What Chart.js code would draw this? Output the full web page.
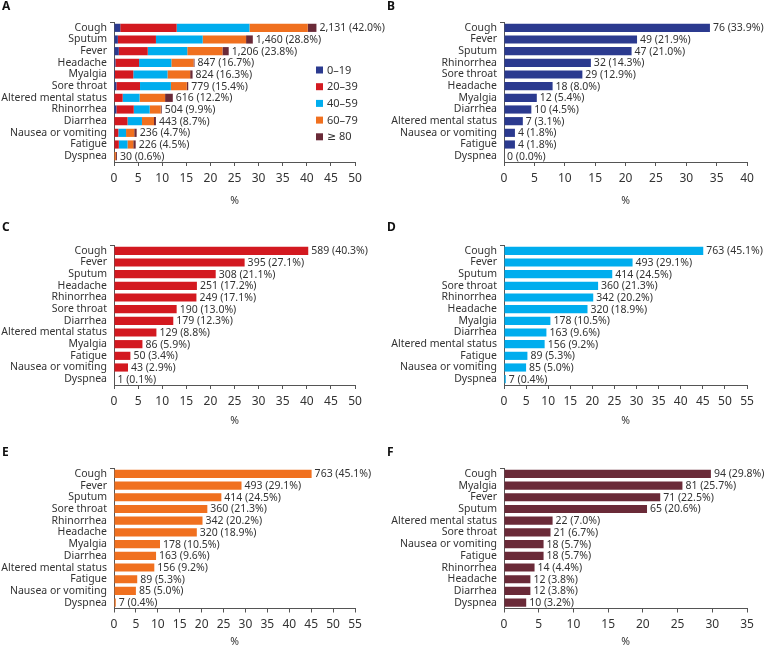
<!DOCTYPE html>
<html>
<head>
<meta charset="utf-8">
<script src="https://cdn.jsdelivr.net/npm/chart.js@4.4.1/dist/chart.umd.min.js"></script>
<style>
  body { margin: 0; background: #fff; }
  .panel { position: absolute; }
</style>
</head>
<body>
<div class="panel" style="left:0;top:0;width:385px;height:215px"><canvas id="chartA"></canvas></div>
<div class="panel" style="left:385px;top:0;width:385px;height:215px"><canvas id="chartB"></canvas></div>
<div class="panel" style="left:0;top:215px;width:385px;height:215px"><canvas id="chartC"></canvas></div>
<div class="panel" style="left:385px;top:215px;width:385px;height:215px"><canvas id="chartD"></canvas></div>
<div class="panel" style="left:0;top:430px;width:385px;height:218px"><canvas id="chartE"></canvas></div>
<div class="panel" style="left:385px;top:430px;width:385px;height:218px"><canvas id="chartF"></canvas></div>
<script>
// ---- data ----
const ageGroups = ["0–19", "20–39", "40–59", "60–79", "≥ 80"];
const ageColors = ["#2b3a8f", "#d31920", "#00adee", "#f0701f", "#6a2a38"];

const catsA = ["Cough", "Sputum", "Fever", "Headache", "Myalgia", "Sore throat",
  "Altered mental status", "Rhinorrhea", "Diarrhea", "Nausea or vomiting", "Fatigue", "Dyspnea"];
const a0_19 = [1.3, 0.8, 1.0, 0.3, 0.2, 0.5, 0.1, 0.5, 0.1, 0.0, 0.1, 0.0];
const a20_39 = [11.7, 7.9, 6.0, 4.9, 3.8, 4.9, 1.7, 3.6, 2.7, 0.9, 0.9, 0.0];
const a40_59 = [15.1, 9.7, 8.2, 6.7, 7.1, 6.4, 3.5, 3.3, 3.0, 1.6, 1.8, 0.0];
const a60_79 = [12.1, 9.0, 7.3, 4.6, 4.7, 3.3, 5.3, 2.3, 2.5, 1.7, 1.2, 0.4];
const a80 = [1.8, 1.4, 1.3, 0.2, 0.5, 0.3, 1.6, 0.2, 0.4, 0.5, 0.5, 0.2];
const countsA = [2131, 1460, 1206, 847, 824, 779, 616, 504, 443, 236, 226, 30];
const pctA = [42.0, 28.8, 23.8, 16.7, 16.3, 15.4, 12.2, 9.9, 8.7, 4.7, 4.5, 0.6];

const catsB = ["Cough", "Fever", "Sputum", "Rhinorrhea", "Sore throat", "Headache",
  "Myalgia", "Diarrhea", "Altered mental status", "Nausea or vomiting", "Fatigue", "Dyspnea"];
const countsB = [76, 49, 47, 32, 29, 18, 12, 10, 7, 4, 4, 0];
const pctB = [33.9, 21.9, 21.0, 14.3, 12.9, 8.0, 5.4, 4.5, 3.1, 1.8, 1.8, 0.0];

const catsC = ["Cough", "Fever", "Sputum", "Headache", "Rhinorrhea", "Sore throat",
  "Diarrhea", "Altered mental status", "Myalgia", "Fatigue", "Nausea or vomiting", "Dyspnea"];
const countsC = [589, 395, 308, 251, 249, 190, 179, 129, 86, 50, 43, 1];
const pctC = [40.3, 27.1, 21.1, 17.2, 17.1, 13.0, 12.3, 8.8, 5.9, 3.4, 2.9, 0.1];

const catsD = ["Cough", "Fever", "Sputum", "Sore throat", "Rhinorrhea", "Headache",
  "Myalgia", "Diarrhea", "Altered mental status", "Fatigue", "Nausea or vomiting", "Dyspnea"];
const countsD = [763, 493, 414, 360, 342, 320, 178, 163, 156, 89, 85, 7];
const pctD = [45.1, 29.1, 24.5, 21.3, 20.2, 18.9, 10.5, 9.6, 9.2, 5.3, 5.0, 0.4];

const catsE = ["Cough", "Fever", "Sputum", "Sore throat", "Rhinorrhea", "Headache",
  "Myalgia", "Diarrhea", "Altered mental status", "Fatigue", "Nausea or vomiting", "Dyspnea"];
const countsE = [763, 493, 414, 360, 342, 320, 178, 163, 156, 89, 85, 7];
const pctE = [45.1, 29.1, 24.5, 21.3, 20.2, 18.9, 10.5, 9.6, 9.2, 5.3, 5.0, 0.4];

const catsF = ["Cough", "Myalgia", "Fever", "Sputum", "Altered mental status", "Sore throat",
  "Nausea or vomiting", "Fatigue", "Rhinorrhea", "Headache", "Diarrhea", "Dyspnea"];
const countsF = [94, 81, 71, 65, 22, 21, 18, 18, 14, 12, 12, 10];
const pctF = [29.8, 25.7, 22.5, 20.6, 7.0, 6.7, 5.7, 5.7, 4.4, 3.8, 3.8, 3.2];

const xTicksStep = 5;
// ---- end data ----

const FONT = "'Noto Sans', 'DejaVu Sans', sans-serif";
const TEXT = "#333";
const AXIS = "#555";

function fmtLabel(count, pct) {
  return count.toLocaleString("en-US") + " (" + pct.toFixed(1) + "%)";
}

// value labels at the end of each (stacked) bar + panel letter + optional legend
const decorPlugin = {
  id: "decor",
  afterDatasetsDraw(chart, args, opts) {
    const ctx = chart.ctx;
    const x = chart.scales.x;
    const lastMeta = chart.getDatasetMeta(chart.data.datasets.length - 1);
    ctx.save();
    ctx.fillStyle = TEXT;
    ctx.font = "10.5px " + FONT;
    ctx.textBaseline = "middle";
    ctx.textAlign = "left";
    opts.labels.forEach((txt, i) => {
      let total = 0;
      chart.data.datasets.forEach(ds => total += ds.data[i]);
      const px = x.getPixelForValue(total);
      ctx.fillText(txt, px + 3, lastMeta.data[i].y + 0.5);
    });
    // panel letter
    ctx.font = "bold 12px " + FONT;
    ctx.fillStyle = "#111";
    ctx.textBaseline = "middle";
    ctx.fillText(opts.letter, 2, opts.letterY);
    // legend
    if (opts.legend) {
      ctx.font = "11px " + FONT;
      ctx.fillStyle = TEXT;
      chart.data.datasets.forEach((ds, k) => {
        const ly = opts.legend.y + k * opts.legend.gap;
        ctx.fillStyle = ds.backgroundColor;
        ctx.fillRect(opts.legend.x, ly - 3.5, 7, 7);
        ctx.fillStyle = TEXT;
        ctx.fillText(ds.label, opts.legend.x + 11, ly + 0.5);
      });
    }
    ctx.restore();
  }
};

function makePanel(id, cfg) {
  const H = cfg.height;
  return new Chart(document.getElementById(id), {
    type: "bar",
    data: { labels: cfg.cats, datasets: cfg.datasets },
    options: {
      indexAxis: "y",
      responsive: true,
      maintainAspectRatio: false,
      animation: false,
      layout: { padding: { top: cfg.top, right: cfg.padRight, left: 0, bottom: 0 } },
      datasets: { bar: { barPercentage: 0.7, categoryPercentage: 1.0 } },
      plugins: {
        legend: { display: false },
        tooltip: { enabled: false },
        decor: { labels: cfg.valueLabels, letter: cfg.letter, letterY: cfg.letterY, legend: cfg.legend }
      },
      scales: {
        x: {
          stacked: true,
          min: 0,
          max: cfg.xMax,
          afterFit: s => { s.height = H - cfg.axisY; },
          border: { display: true, color: AXIS, width: 1 },
          grid: { drawOnChartArea: false, tickLength: 4, color: AXIS },
          ticks: { stepSize: xTicksStep, padding: 5, color: TEXT, font: { family: FONT, size: 12 } },
          title: { display: true, text: "%", color: TEXT, font: { family: FONT, size: 10.5 }, padding: { top: 0, bottom: cfg.titlePad } }
        },
        y: {
          stacked: true,
          afterFit: s => { s.width = cfg.yWidth; },
          border: { display: true, color: AXIS, width: 1 },
          grid: {
            drawOnChartArea: false, tickLength: 4,
            color: c => (c.index === 0 ? AXIS : "transparent")
          },
          ticks: { autoSkip: false, padding: 3, color: TEXT, font: { family: FONT, size: 10.5 } }
        }
      }
    },
    plugins: [decorPlugin]
  });
}

function single(data, color) {
  return [{ label: "", data: data, backgroundColor: color, borderWidth: 0 }];
}

const stackA = [a0_19, a20_39, a40_59, a60_79, a80].map((d, k) => ({
  label: ageGroups[k], data: d, backgroundColor: ageColors[k], borderWidth: 0
}));

makePanel("chartA", {
  height: 215, cats: catsA, datasets: stackA, xMax: 50,
  valueLabels: countsA.map((c, i) => fmtLabel(c, pctA[i])),
  top: 22, axisY: 162, padRight: 30, yWidth: 114, titlePad: 8,
  letter: "A", letterY: 7, legend: { x: 316, y: 70, gap: 16.7 }
});
makePanel("chartB", {
  height: 215, cats: catsB, datasets: single(pctB, ageColors[0]), xMax: 40,
  valueLabels: countsB.map((c, i) => fmtLabel(c, pctB[i])),
  top: 22, axisY: 162, padRight: 23, yWidth: 119, titlePad: 8,
  letter: "B", letterY: 7
});
makePanel("chartC", {
  height: 215, cats: catsC, datasets: single(pctC, ageColors[1]), xMax: 50,
  valueLabels: countsC.map((c, i) => fmtLabel(c, pctC[i])),
  top: 30, axisY: 170, padRight: 30, yWidth: 114, titlePad: 3,
  letter: "C", letterY: 13
});
makePanel("chartD", {
  height: 215, cats: catsD, datasets: single(pctD, ageColors[2]), xMax: 55,
  valueLabels: countsD.map((c, i) => fmtLabel(c, pctD[i])),
  top: 30, axisY: 170, padRight: 23, yWidth: 119, titlePad: 3,
  letter: "D", letterY: 13
});
makePanel("chartE", {
  height: 218, cats: catsE, datasets: single(pctE, ageColors[3]), xMax: 55,
  valueLabels: countsE.map((c, i) => fmtLabel(c, pctE[i])),
  top: 38, axisY: 178.5, padRight: 30, yWidth: 114, titlePad: 0,
  letter: "E", letterY: 23
});
makePanel("chartF", {
  height: 218, cats: catsF, datasets: single(pctF, ageColors[4]), xMax: 35,
  valueLabels: countsF.map((c, i) => fmtLabel(c, pctF[i])),
  top: 38, axisY: 178.5, padRight: 23, yWidth: 119, titlePad: 0,
  letter: "F", letterY: 23
});
</script>
</body>
</html>
